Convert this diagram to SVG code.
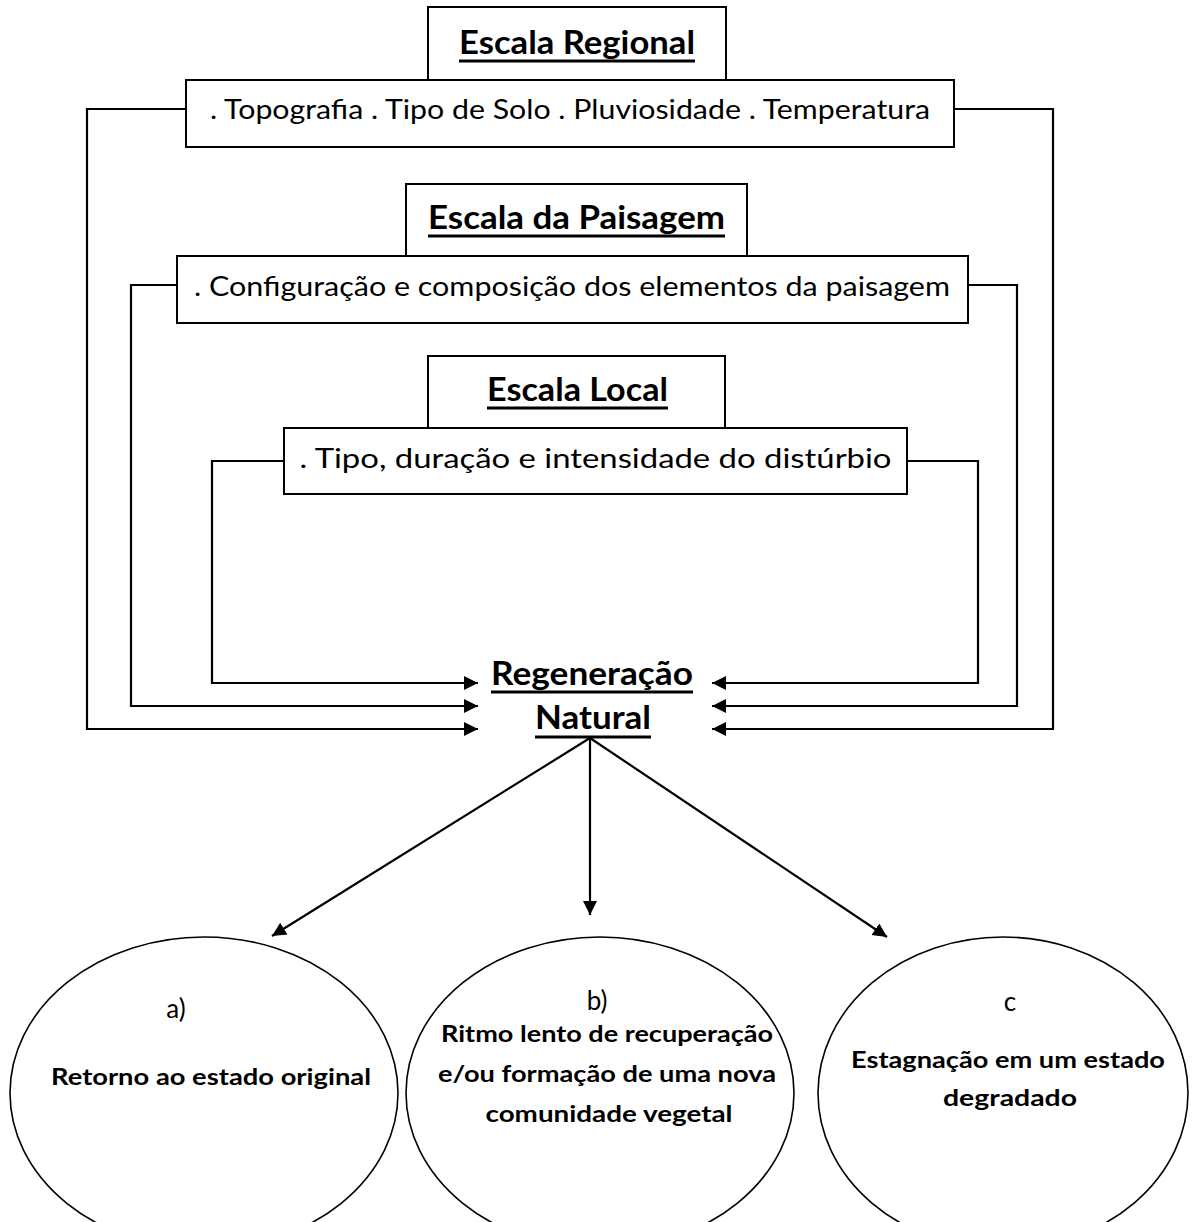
<svg xmlns="http://www.w3.org/2000/svg" width="1192" height="1222" viewBox="0 0 1192 1222">
<style>
.box{fill:#fff;stroke:#000;stroke-width:2}
.ell{fill:#fff;stroke:#000;stroke-width:1.6}
.t{font-family:Lato,"Liberation Sans",sans-serif;fill:#000}
.title{font-size:32px;font-weight:bold;text-anchor:middle}
.body{font-size:26px;text-anchor:middle}
.eb{font-size:23px;font-weight:bold;text-anchor:middle}
.ul{stroke:#000;stroke-width:3}
.con{fill:none;stroke:#000;stroke-width:2.2}
</style>
<defs>
<marker id="ah" markerUnits="userSpaceOnUse" markerWidth="15" markerHeight="15" refX="14" refY="7" orient="auto">
<path d="M0,0 L14,7 L0,14 z" fill="#000"/>
</marker>
</defs>

<g id="escala-regional">
<rect class="box" x="428" y="7" width="298" height="73"/>
<text class="t title" x="577" y="54" textLength="236" lengthAdjust="spacingAndGlyphs">Escala Regional</text>
<line class="ul" x1="459" y1="61" x2="695" y2="61"/>
<rect class="box" x="186" y="80" width="768" height="67"/>
<text class="t body" x="570" y="119" textLength="720" lengthAdjust="spacingAndGlyphs">. Topografia . Tipo de Solo . Pluviosidade . Temperatura</text>
</g>

<g id="escala-paisagem">
<rect class="box" x="406" y="184" width="341" height="72"/>
<text class="t title" x="576.5" y="229" textLength="297" lengthAdjust="spacingAndGlyphs">Escala da Paisagem</text>
<line class="ul" x1="428" y1="236" x2="725" y2="236"/>
<rect class="box" x="177" y="256" width="791" height="67"/>
<text class="t body" x="572" y="296" textLength="756" lengthAdjust="spacingAndGlyphs">. Configuração e composição dos elementos da paisagem</text>
</g>

<g id="escala-local">
<rect class="box" x="428" y="356" width="297" height="72"/>
<text class="t title" x="577.5" y="401" textLength="181" lengthAdjust="spacingAndGlyphs">Escala Local</text>
<line class="ul" x1="487" y1="408" x2="668" y2="408"/>
<rect class="box" x="284" y="428" width="623" height="66"/>
<text class="t body" x="595.5" y="468" textLength="592" lengthAdjust="spacingAndGlyphs">. Tipo, duração e intensidade do distúrbio</text>
</g>

<g id="regeneracao-natural">
<text class="t title" x="592" y="685" textLength="202" lengthAdjust="spacingAndGlyphs">Regeneração</text>
<line class="ul" x1="491" y1="692" x2="693" y2="692"/>
<text class="t title" x="593" y="729" textLength="116" lengthAdjust="spacingAndGlyphs">Natural</text>
<line class="ul" x1="535" y1="737" x2="651" y2="737"/>
</g>

<g id="resultado-a">
<ellipse class="ell" cx="204" cy="1093" rx="194" ry="156"/>
<text class="t body" x="176" y="1018">a)</text>
<text class="t eb" x="211" y="1085" textLength="320" lengthAdjust="spacingAndGlyphs">Retorno ao estado original</text>
</g>

<g id="resultado-b">
<ellipse class="ell" cx="600" cy="1093" rx="194" ry="156"/>
<text class="t body" x="597" y="1010">b)</text>
<text class="t eb" x="607" y="1042" textLength="332" lengthAdjust="spacingAndGlyphs">Ritmo lento de recuperação</text>
<text class="t eb" x="607" y="1082" textLength="338" lengthAdjust="spacingAndGlyphs">e/ou formação de uma nova</text>
<text class="t eb" x="609" y="1122" textLength="247" lengthAdjust="spacingAndGlyphs">comunidade vegetal</text>
</g>

<g id="resultado-c">
<ellipse class="ell" cx="1003" cy="1093" rx="185" ry="156"/>
<text class="t body" x="1010" y="1011">c</text>
<text class="t eb" x="1008" y="1068" textLength="314" lengthAdjust="spacingAndGlyphs">Estagnação em um estado</text>
<text class="t eb" x="1010" y="1106" textLength="134" lengthAdjust="spacingAndGlyphs">degradado</text>
</g>

<g id="connectors">
<path class="con" d="M186,109 H87 V729 H478" marker-end="url(#ah)"/>
<path class="con" d="M954,109 H1053 V729 H712" marker-end="url(#ah)"/>
<path class="con" d="M177,285 H131 V706 H478" marker-end="url(#ah)"/>
<path class="con" d="M968,285 H1017 V706 H712" marker-end="url(#ah)"/>
<path class="con" d="M284,461 H212 V683 H478" marker-end="url(#ah)"/>
<path class="con" d="M907,461 H978 V683 H712" marker-end="url(#ah)"/>
<path class="con" d="M590,738 L272,936" marker-end="url(#ah)"/>
<path class="con" d="M590,738 L590,915" marker-end="url(#ah)"/>
<path class="con" d="M590,738 L887,937" marker-end="url(#ah)"/>
</g>
</svg>
